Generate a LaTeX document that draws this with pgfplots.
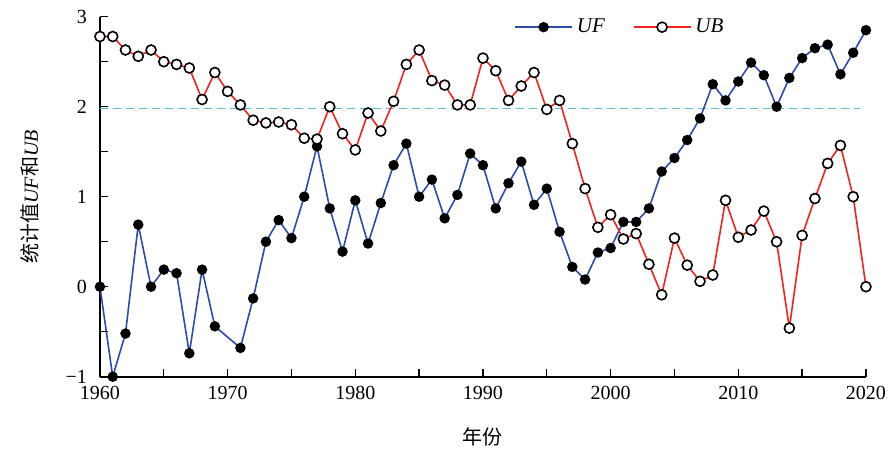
\documentclass[border=0pt]{standalone}
\usepackage{fontspec}
\setmainfont{Liberation Serif}
\newfontfamily\cjk{Noto Sans CJK SC}
\usepackage{pgfplots}
\pgfplotsset{compat=1.18}
\definecolor{ufblue}{RGB}{45,75,170}
\definecolor{ubred}{RGB}{240,35,30}
\definecolor{dashcyan}{RGB}{90,190,210}
\begin{document}
\begin{tikzpicture}
\begin{axis}[
  scale only axis,
  width=383pt, height=180pt,
  xmin=1960, xmax=2020, ymin=-1, ymax=3,
  axis lines=left,
  axis line style={-, line width=0.8pt},
  tick align=inside,
  xtick={1960,1970,1980,1990,2000,2010,2020},
  minor xtick={1965,1975,1985,1995,2005,2015},
  ytick={-1,0,1,2,3},
  yticklabels={−1,0,1,2,3},
  minor ytick={-0.5,0.5,1.5,2.5},
  major tick length=3.8pt, minor tick length=3.8pt,
  every tick/.style={black, line width=0.7pt},
  /pgf/number format/assume math mode=true,
  /pgf/number format/1000 sep={},
  tick label style={font=\fontsize{10}{12}\selectfont},
  yticklabel style={xshift=-3pt},
  xticklabel style={yshift=-1pt},
  xlabel={\cjk 年份},
  ylabel={{\cjk 统计值}\textit{UF}{\cjk 和}\textit{UB}},
  label style={font=\fontsize{10}{12}\selectfont},
  xlabel style={at={(rel axis cs:0.5,-0.1675)}, anchor=center},
  ylabel style={at={(rel axis cs:-0.091,0.5)}, anchor=center},
  clip=false,
  legend columns=2,
  legend style={draw=none, fill=none, at={(rel axis cs:0.68,0.971)}, anchor=center,
    font=\fontsize{10.5}{12}\selectfont\itshape,
    /tikz/every even column/.append style={column sep=12pt}},
  legend image code/.code={\draw[mark repeat=2,mark phase=2] plot coordinates {(0cm,0cm)(0.5cm,0cm)(1cm,0cm)};},
]
\addplot[dashcyan, line width=0.9pt, dash pattern=on 4pt off 2.5pt, forget plot] coordinates {(1960,1.98)(2019.5,1.98)};
\addplot[ufblue, line width=0.8pt, mark=*, mark size=2.2pt, mark options={black, fill=black}] coordinates {
(1960,0.0)(1961,-1.0)(1962,-0.52)(1963,0.69)(1964,0.0)(1965,0.19)(1966,0.15)(1967,-0.74)(1968,0.19)(1969,-0.44)
(1971,-0.68)(1972,-0.13)(1973,0.5)(1974,0.74)(1975,0.54)(1976,1.0)(1977,1.56)(1978,0.87)(1979,0.39)(1980,0.96)
(1981,0.48)(1982,0.93)(1983,1.35)(1984,1.59)(1985,1.0)(1986,1.19)(1987,0.76)(1988,1.02)(1989,1.48)(1990,1.35)
(1991,0.87)(1992,1.15)(1993,1.39)(1994,0.91)(1995,1.09)(1996,0.61)(1997,0.22)(1998,0.08)(1999,0.38)(2000,0.43)
(2001,0.72)(2002,0.72)(2003,0.87)(2004,1.28)(2005,1.43)(2006,1.63)(2007,1.87)(2008,2.25)(2009,2.07)(2010,2.28)
(2011,2.49)(2012,2.35)(2013,2.0)(2014,2.32)(2015,2.54)(2016,2.65)(2017,2.69)(2018,2.36)(2019,2.6)(2020,2.85)
};
\addlegendentry{UF}
\addplot[ubred, line width=0.8pt, mark=*, mark size=2.5pt, mark options={draw=black, fill=white, line width=0.8pt}] coordinates {
(1960,2.78)(1961,2.78)(1962,2.63)(1963,2.56)(1964,2.63)(1965,2.5)(1966,2.47)(1967,2.43)(1968,2.08)(1969,2.38)
(1970,2.17)(1971,2.02)(1972,1.85)(1973,1.82)(1974,1.83)(1975,1.8)(1976,1.65)(1977,1.64)(1978,2.0)(1979,1.7)
(1980,1.52)(1981,1.93)(1982,1.73)(1983,2.06)(1984,2.47)(1985,2.63)(1986,2.29)(1987,2.24)(1988,2.02)(1989,2.02)
(1990,2.54)(1991,2.4)(1992,2.07)(1993,2.23)(1994,2.38)(1995,1.97)(1996,2.07)(1997,1.59)(1998,1.09)(1999,0.66)
(2000,0.8)(2001,0.53)(2002,0.59)(2003,0.25)(2004,-0.09)(2005,0.54)(2006,0.24)(2007,0.06)(2008,0.13)(2009,0.96)
(2010,0.55)(2011,0.63)(2012,0.84)(2013,0.5)(2014,-0.46)(2015,0.57)(2016,0.98)(2017,1.37)(2018,1.57)(2019,1.0)
(2020,0.0)
};
\addlegendentry{UB}
\path (rel axis cs:-0.1305,-0.2119) rectangle (rel axis cs:1.0366,1.0464);
\end{axis}
\end{tikzpicture}
\end{document}
